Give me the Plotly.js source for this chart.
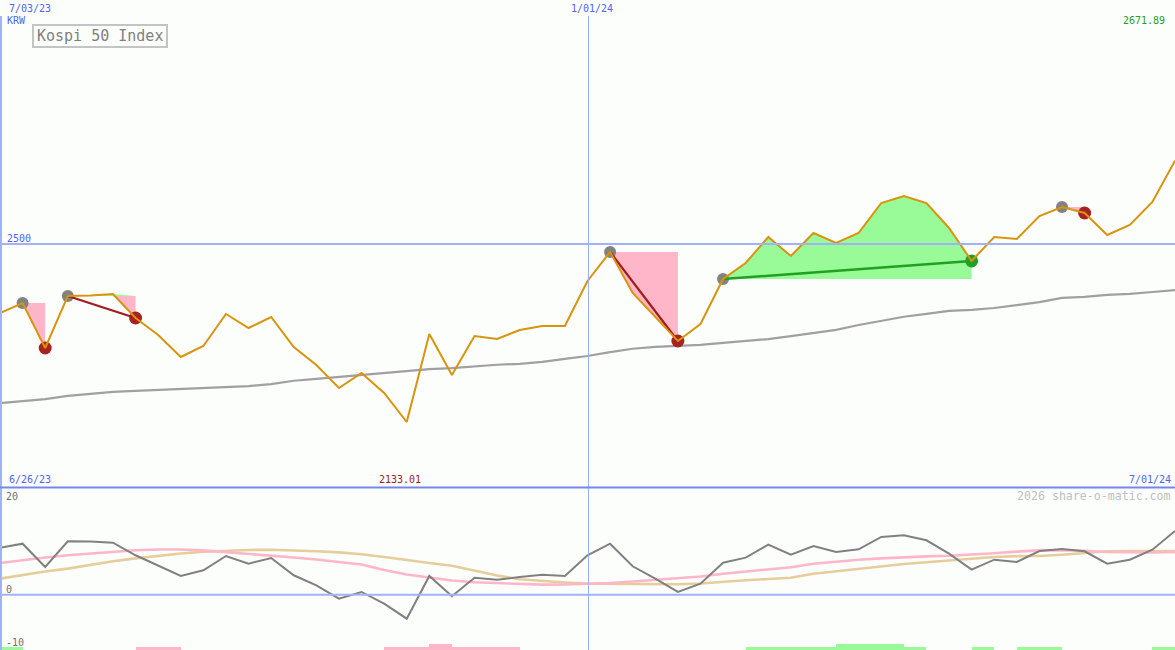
<!DOCTYPE html>
<html>
<head>
<meta charset="utf-8">
<script src="https://cdn.plot.ly/plotly-3.0.1.min.js"></script>
<style>html,body{margin:0;padding:0;background:#fcfefc;}#chart{width:1175px;height:650px;}</style>
</head>
<body>
<div id="chart"></div>
<script>
// ---- data (weekly) ----
var dates = ["2023-07-03","2023-07-10","2023-07-17","2023-07-24","2023-07-31","2023-08-07","2023-08-14","2023-08-21","2023-08-28","2023-09-04","2023-09-11","2023-09-18","2023-09-25","2023-10-02","2023-10-09","2023-10-16","2023-10-23","2023-10-30","2023-11-06","2023-11-13","2023-11-20","2023-11-27","2023-12-04","2023-12-11","2023-12-18","2023-12-25","2024-01-01","2024-01-08","2024-01-15","2024-01-22","2024-01-29","2024-02-05","2024-02-12","2024-02-19","2024-02-26","2024-03-04","2024-03-11","2024-03-18","2024-03-25","2024-04-01","2024-04-08","2024-04-15","2024-04-22","2024-04-29","2024-05-06","2024-05-13","2024-05-20","2024-05-27","2024-06-03","2024-06-10","2024-06-17","2024-06-24","2024-07-01"];
var price = [2357.7,2378.3,2285.6,2392.8,2393.8,2396.9,2347.4,2312.4,2267.0,2289.7,2355.7,2326.8,2349.5,2287.6,2250.5,2203.1,2234.0,2192.8,2133.01,2314.4,2229.9,2310.3,2304.1,2322.7,2330.9,2330.9,2423.7,2483.5,2399.0,2349.5,2300.0,2335.0,2427.8,2460.8,2514.4,2475.3,2522.7,2502.1,2522.7,2584.5,2599.0,2584.5,2533.0,2465.0,2514.4,2510.3,2557.7,2576.3,2563.9,2518.6,2539.2,2586.6,2671.89];
var movingAvg = [2172,2176,2180,2187,2191,2195,2197,2199,2201,2203,2205,2207,2211,2218,2222,2226,2230,2234,2238,2242,2244,2248,2251,2253,2257,2263,2269,2277,2284,2288,2290,2292,2296,2300,2304,2310,2317,2323,2333,2341,2350,2356,2362,2364,2368,2374,2380,2389,2391,2395,2397,2401,2405];
var oscGray = [8.81,9.56,5.19,10.01,9.97,9.75,7.39,5.51,3.51,4.57,7.25,5.81,6.88,3.64,1.76,-0.75,0.51,-1.69,-4.50,3.51,-0.30,3.19,2.81,3.32,3.75,3.51,7.39,9.56,5.32,3.00,0.51,2.06,6.00,6.94,9.37,7.50,9.13,8.00,8.51,10.82,11.13,10.20,7.69,4.69,6.56,6.13,8.19,8.57,8.13,5.81,6.56,8.43,11.94];
var oscPink = [5.94,6.50,6.97,7.39,7.72,8.04,8.32,8.47,8.47,8.30,8.00,7.63,7.31,6.97,6.60,6.13,5.66,4.63,3.79,3.22,2.66,2.32,2.14,1.97,1.89,1.91,2.04,2.19,2.47,2.76,3.07,3.41,3.94,4.35,4.72,5.14,5.79,6.22,6.54,6.80,7.03,7.18,7.31,7.48,7.78,8.08,8.30,8.32,8.23,8.00,7.91,7.91,8.00];
var oscTan = [3.00,3.73,4.35,4.89,5.60,6.26,6.80,7.29,7.72,8.04,8.27,8.38,8.43,8.34,8.15,7.93,7.59,7.07,6.45,5.94,5.44,4.54,3.60,2.89,2.57,2.29,2.08,2.06,2.01,1.89,1.97,2.10,2.47,2.72,2.94,3.17,3.92,4.39,4.82,5.32,5.74,6.09,6.45,6.82,7.07,7.22,7.25,7.50,7.82,8.13,8.17,8.19,8.19];
// signal strip per week interval: +green / -pink, 1 = low, 2 = tall
var signal = [1,0,0,0,0,0,-1,-1,0,0, 0,0,0,0,0,0,0,-1,-1,-2, -1,-1,-1,0,0,0,0,0,0,0, 0,0,0,1,1,1,1,2,2,2, 1,0,0,1,0,1,1,0,0,0, 0,1];
// pattern events (indices into dates)
var startIdx = [1,3,27,32,47];
var endIdx   = [2,6,30,43,48];
var downEnds = [2,6,30,48];
var upEnds   = [43];
var connectDown = [[3,6],[27,30]];
var connectUp   = [[32,43]];

// ---- styles ----
var W = 1175, H = 650;
var BG = '#fcfefc';
var PINK = '#ffb6c8', GREEN = '#98fb98';
var MONO = 'DejaVu Sans Mono, monospace';
function px(x){ return x / W; }
function py(y){ return 1 - y / H; }

var traces = [];
// fills between the starting level and the price
for (var s = 0; s < startIdx.length; s++) {
  var a = startIdx[s], b = endIdx[s], lvl = price[a];
  var xs = dates.slice(a, b + 1);
  var lo = [], hi = [], lv = [];
  for (var i = a; i <= b; i++) { lo.push(Math.min(price[i], lvl)); hi.push(Math.max(price[i], lvl)); lv.push(lvl); }
  var xr = xs.concat(xs.slice().reverse());
  traces.push({x: xr, y: lo.concat(lv.slice().reverse()), type: 'scatter', mode: 'lines', fill: 'toself', fillcolor: PINK, line: {width: 0}, xaxis: 'x', yaxis: 'y', hoverinfo: 'skip'});
  traces.push({x: xr, y: hi.concat(lv.slice().reverse()), type: 'scatter', mode: 'lines', fill: 'toself', fillcolor: GREEN, line: {width: 0}, xaxis: 'x', yaxis: 'y', hoverinfo: 'skip'});
}
// moving average
traces.push({x: dates, y: movingAvg, type: 'scatter', mode: 'lines', line: {color: '#a0a0a0', width: 2.2}, xaxis: 'x', yaxis: 'y'});
// markers
function pick(arr){ return {x: arr.map(function(i){return dates[i];}), y: arr.map(function(i){return price[i];})}; }
var g = pick(startIdx), r = pick(downEnds), u = pick(upEnds);
traces.push({x: g.x, y: g.y, type: 'scatter', mode: 'markers', marker: {color: '#828282', size: 12}, xaxis: 'x', yaxis: 'y'});
traces.push({x: r.x, y: r.y, type: 'scatter', mode: 'markers', marker: {color: '#a82222', size: 13}, xaxis: 'x', yaxis: 'y'});
traces.push({x: u.x, y: u.y, type: 'scatter', mode: 'markers', marker: {color: '#22a02a', size: 13}, xaxis: 'x', yaxis: 'y'});
connectDown.forEach(function(p){ traces.push({x: [dates[p[0]], dates[p[1]]], y: [price[p[0]], price[p[1]]], type: 'scatter', mode: 'lines', line: {color: '#a01c1c', width: 2.2}, xaxis: 'x', yaxis: 'y'}); });
connectUp.forEach(function(p){ traces.push({x: [dates[p[0]], dates[p[1]]], y: [price[p[0]], price[p[1]]], type: 'scatter', mode: 'lines', line: {color: '#22a022', width: 2.4}, xaxis: 'x', yaxis: 'y'}); });
// price
traces.push({x: dates, y: price, type: 'scatter', mode: 'lines', line: {color: '#d8940c', width: 2}, xaxis: 'x', yaxis: 'y'});

// lower panel
traces.push({x: dates, y: oscTan, type: 'scatter', mode: 'lines', line: {color: '#e6cd9c', width: 2.6}, xaxis: 'x', yaxis: 'y2'});
traces.push({x: dates, y: oscPink, type: 'scatter', mode: 'lines', line: {color: '#ffb6c8', width: 2.6}, xaxis: 'x', yaxis: 'y2'});
traces.push({x: dates, y: oscGray, type: 'scatter', mode: 'lines', line: {color: '#808080', width: 2}, xaxis: 'x', yaxis: 'y2'});
// signal strip
var bx = [], by = [], bc = [];
var BASE = -10.4;
for (var k = 0; k < signal.length; k++) {
  if (signal[k] === 0) continue;
  bx.push(dates[k]);
  by.push(Math.abs(signal[k]) === 2 ? 1.22 : 0.6);
  bc.push(signal[k] > 0 ? GREEN : PINK);
}
traces.push({x: bx, y: by, base: BASE, type: 'bar', width: 7 * 86400000, offset: 0, marker: {color: bc, line: {width: 0}}, xaxis: 'x', yaxis: 'y2'});

var blue = '#5064f0';
function label(text, x, y, color, size, anchor){
  return {text: text, x: px(x), y: py(y), xref: 'paper', yref: 'paper', xanchor: anchor || 'left', yanchor: 'middle', showarrow: false, font: {family: MONO, size: size || 10, color: color}};
}
var annotations = [
  label('7/03/23', 7, 9, blue),
  label('KRW', 5, 21, blue),
  label('1/01/24', 569, 9, blue),
  label('2671.89', 1167, 21, '#22a022', 10, 'right'),
  label('2500', 5, 238, blue),
  label('6/26/23', 7, 479, blue),
  label('2133.01', 377, 479, '#a01c1c'),
  label('7/01/24', 1173, 479, blue, 10, 'right'),
  label('2026 share-o-matic.com', 1173, 496, '#c0c0c0', 11.6, 'right'),
  label('20', 4, 496, '#707070'),
  label('0', 4, 589, '#707070'),
  label('-10', 4, 642, '#707070'),
  label('Kospi 50 Index', 100, 36, '#808080', 15, 'center')
];

var lightBlue = '#a3b2f6';
var shapes = [
  {type: 'line', xref: 'paper', yref: 'y', x0: 0, x1: 1, y0: 2500, y1: 2500, line: {color: lightBlue, width: 2}},
  {type: 'line', xref: 'paper', yref: 'y2', x0: 0, x1: 1, y0: 0, y1: 0, line: {color: lightBlue, width: 2}},
  {type: 'line', xref: 'paper', yref: 'paper', x0: px(588.5), x1: px(588.5), y0: 0, y1: py(16), line: {color: '#9eaef8', width: 1}},
  {type: 'line', xref: 'paper', yref: 'paper', x0: px(1), x1: px(1), y0: 0, y1: py(16), line: {color: lightBlue, width: 2}},
  {type: 'line', xref: 'paper', yref: 'paper', x0: 0, x1: 1, y0: py(487.5), y1: py(487.5), line: {color: '#7486ea', width: 2}},
  {type: 'rect', xref: 'paper', yref: 'paper', x0: px(33), x1: px(167), y0: py(25), y1: py(47), line: {color: '#c4c4c4', width: 2}, fillcolor: 'rgba(0,0,0,0)'}
];

var layout = {
  width: W, height: H,
  margin: {l: 0, r: 0, t: 0, b: 0},
  paper_bgcolor: BG, plot_bgcolor: BG,
  showlegend: false, hovermode: false,
  bargap: 0,
  xaxis: {type: 'date', range: ['2023-07-03', '2024-07-01'], visible: false, fixedrange: true},
  yaxis: {domain: [py(487), 1], range: [1999, 3003], visible: false, fixedrange: true},
  yaxis2: {domain: [0, py(488)], range: [-10.37, 20], visible: false, fixedrange: true},
  shapes: shapes,
  annotations: annotations
};

Plotly.newPlot('chart', traces, layout, {staticPlot: true, displayModeBar: false});
</script>
</body>
</html>
